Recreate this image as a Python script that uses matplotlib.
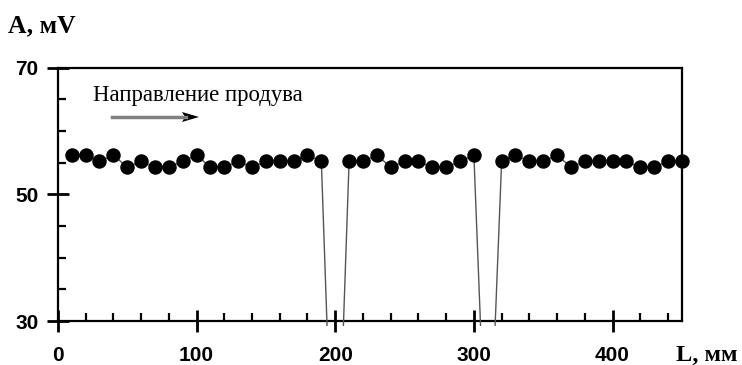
import matplotlib
matplotlib.use("Agg")
import matplotlib.pyplot as plt
from matplotlib.patches import Rectangle, Polygon
from matplotlib.lines import Line2D
from matplotlib.ticker import MultipleLocator

# Data
L_mm = [10, 20, 30, 40, 50, 60, 70, 80, 90, 100,
        110, 120, 130, 140, 150, 160, 170, 180, 190, 200,
        210, 220, 230, 240, 250, 260, 270, 280, 290, 300,
        310, 320, 330, 340, 350, 360, 370, 380, 390, 400,
        410, 420, 430, 440, 450]
A_mV = [56.2, 56.2, 55.2, 56.2, 54.3, 55.2, 54.3, 54.3, 55.2, 56.2,
        54.3, 54.3, 55.2, 54.3, 55.2, 55.2, 55.2, 56.2, 55.2, -8.0,
        55.2, 55.2, 56.2, 54.3, 55.2, 55.2, 54.3, 54.3, 55.2, 56.2,
        0.0, 55.2, 56.2, 55.2, 55.2, 56.2, 54.3, 55.2, 55.2, 55.2,
        55.2, 54.3, 54.3, 55.2, 55.2]
x_ticks = [0, 100, 200, 300, 400]
y_ticks = [30, 50, 70]

W, H = 742, 365
fig = plt.figure(figsize=(W / 100, H / 100), dpi=100)
ax = fig.add_axes([0.078, 0.1205, 0.841, 0.694])

line, = ax.plot(L_mm, A_mV, color="#555555", lw=1.0, marker="o",
                markersize=9.4, markerfacecolor="black",
                markeredgecolor="black", zorder=3)
clip = Rectangle((-0.02, -0.02), 1.04, 1.04, transform=ax.transAxes,
                 facecolor="none", edgecolor="none")
ax.add_patch(clip)
line.set_clip_path(clip)

ax.set_xlim(0, 450)
ax.set_ylim(30, 70)
ax.set_xticks(x_ticks)
ax.set_yticks(y_ticks)
ax.xaxis.set_minor_locator(MultipleLocator(20))
ax.yaxis.set_minor_locator(MultipleLocator(5))

for s in ax.spines.values():
    s.set_linewidth(1.6)
    s.set_color("black")

ax.tick_params(which="major", direction="inout", length=16, width=2.0,
               color="black")
ax.tick_params(which="minor", direction="in", length=6, width=1.6,
               color="black")
ax.tick_params(axis="x", which="major", pad=10)
ax.tick_params(axis="y", which="major", pad=6)
for lab in ax.get_xticklabels() + ax.get_yticklabels():
    lab.set_fontfamily("Liberation Sans")
    lab.set_fontsize(15)
    lab.set_fontweight("bold")

fig.text(8 / W, 1 - 32 / H, "A, мV", family="Liberation Serif",
         fontweight="bold", fontsize=18.5, ha="left", va="baseline")
fig.text(676 / W, 1 - 361 / H, "L, мм", family="Liberation Serif",
         fontweight="bold", fontsize=17.5, ha="left", va="baseline")

fig.text(93 / W, 1 - 101 / H, "Направление продува",
         family="Liberation Serif", fontsize=16.4, ha="left", va="baseline")

# direction arrow: grey shaft, black head
ay = 117
fig.add_artist(Line2D([112 / W, 186 / W], [1 - ay / H, 1 - ay / H],
                      color="#808080", lw=2.5, transform=fig.transFigure))
head = [(182 / W, 1 - (ay - 5) / H), (199 / W, 1 - ay / H),
        (182 / W, 1 - (ay + 5) / H), (185 / W, 1 - ay / H)]
fig.add_artist(Polygon(head, closed=True, facecolor="black", edgecolor="none",
                       transform=fig.transFigure))

fig.savefig("out.png", dpi=100)
